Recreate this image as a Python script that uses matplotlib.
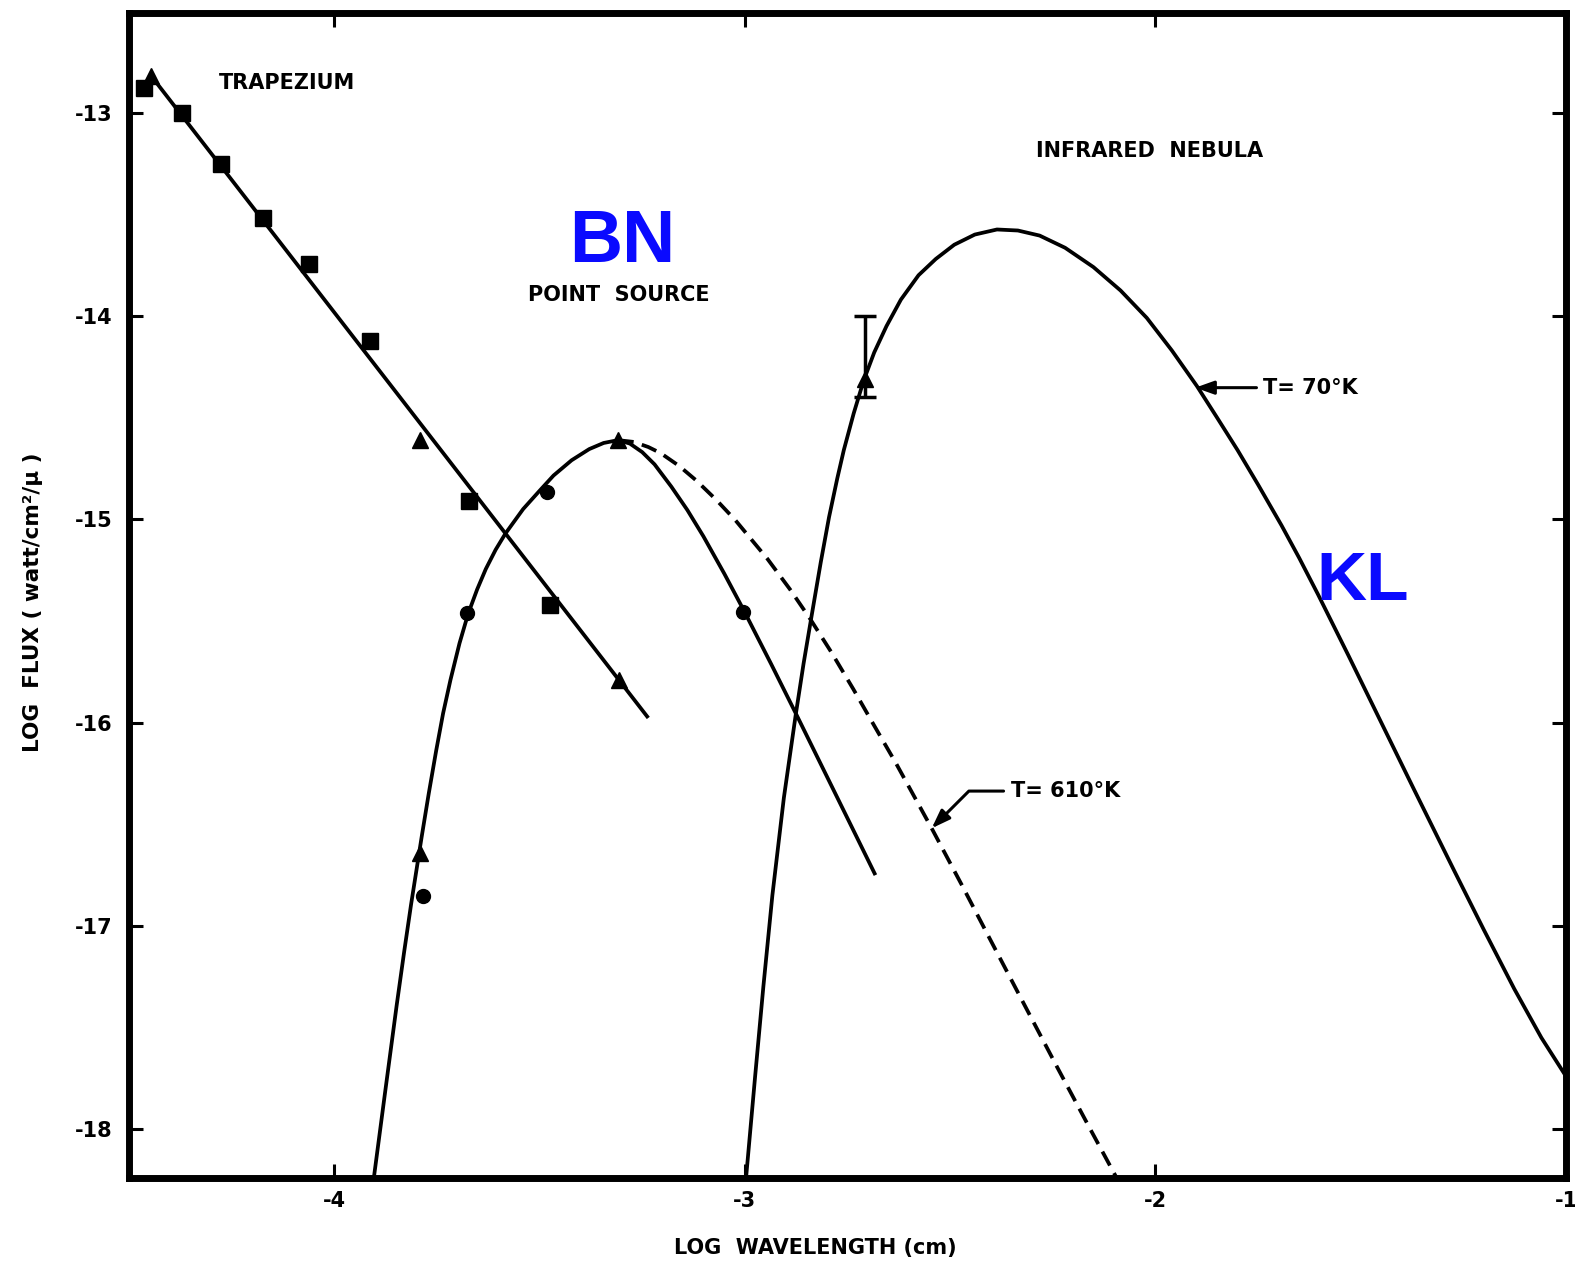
import numpy as np
import matplotlib.pyplot as plt

# Trapezium points and fitted line
trap_sq_x = [-4.463, -4.372, -4.275, -4.173, -4.062, -3.914, -3.673, -3.475]
trap_sq_y = [-12.880, -13.002, -13.255, -13.518, -13.744, -14.125, -14.911, -15.421]
trap_tri_x = [-4.447, -3.792, -3.306]
trap_tri_y = [-12.820, -14.609, -15.792]
trap_line_x = [-4.447, -3.238]
trap_line_y = [-12.817, -15.970]

# BN point source
bn_circ_x = [-3.783, -3.676, -3.483, -3.005]
bn_circ_y = [-16.854, -15.463, -14.864, -15.457]
bn_tri_x = [-3.791, -3.309]
bn_tri_y = [-16.640, -14.611]
bn_curve_x = [-3.905, -3.877, -3.848, -3.830, -3.813, -3.787, -3.770, -3.752, -3.735,
              -3.717, -3.695, -3.674, -3.652, -3.631, -3.607, -3.583, -3.540, -3.500,
              -3.466, -3.422, -3.379, -3.344, -3.309, -3.280, -3.250, -3.220, -3.179,
              -3.140, -3.101, -3.050, -3.005, -2.936, -2.871, -2.800, -2.740, -2.684]
bn_curve_y = [-18.26, -17.83, -17.39, -17.13, -16.895, -16.56, -16.35, -16.14, -15.955,
              -15.79, -15.61, -15.465, -15.345, -15.245, -15.150, -15.070, -14.950, -14.860,
              -14.785, -14.710, -14.655, -14.625, -14.611, -14.628, -14.670, -14.730, -14.840,
              -14.955, -15.084, -15.268, -15.439, -15.712, -15.975, -16.266, -16.512, -16.742]
bn_dash_x = [-3.309, -3.270, -3.235, -3.205, -3.160, -3.118, -3.070, -3.023, -2.945,
             -2.890, -2.841, -2.790, -2.736, -2.685, -2.632, -2.545, -2.470, -2.403,
             -2.320, -2.238, -2.160, -2.085]
bn_dash_y = [-14.611, -14.620, -14.645, -14.675, -14.738, -14.810, -14.904, -15.005, -15.195,
             -15.345, -15.490, -15.652, -15.835, -16.015, -16.200, -16.520, -16.805, -17.065,
             -17.385, -17.700, -17.995, -18.275]

# KL infrared nebula
kl_curve_x = [-2.998, -2.975, -2.955, -2.933, -2.905, -2.876, -2.857, -2.837, -2.815,
              -2.795, -2.775, -2.759, -2.735, -2.711, -2.685, -2.655, -2.620, -2.577,
              -2.535, -2.490, -2.440, -2.386, -2.335, -2.282, -2.220, -2.151, -2.085,
              -2.021, -1.960, -1.899, -1.850, -1.800, -1.750, -1.693, -1.650, -1.604,
              -1.530, -1.450, -1.370, -1.272, -1.200, -1.126, -1.060, -1.000]
kl_curve_y = [-18.26, -17.74, -17.30, -16.85, -16.37, -15.96, -15.71, -15.47, -15.21,
              -14.99, -14.80, -14.66, -14.48, -14.32, -14.18, -14.05, -13.92, -13.80,
              -13.72, -13.65, -13.60, -13.575, -13.58, -13.605, -13.665, -13.76, -13.875,
              -14.01, -14.17, -14.345, -14.50, -14.66, -14.83, -15.03, -15.19, -15.37,
              -15.67, -16.00, -16.33, -16.73, -17.02, -17.31, -17.55, -17.74]
kl_pt_x = [-2.708]
kl_pt_y = [-14.31]
kl_err_lo = [0.09]
kl_err_hi = [0.31]

xticks = [-4, -3, -2, -1]
yticks = [-13, -14, -15, -16, -17, -18]

fig = plt.figure(figsize=(15.75, 12.69), dpi=100)
ax = fig.add_axes([0.0819, 0.0717, 0.9124, 0.9181])

lw = 2.7
ax.plot(trap_line_x, trap_line_y, color='black', lw=lw)
ax.plot(bn_curve_x, bn_curve_y, color='black', lw=lw)
ax.plot(bn_dash_x, bn_dash_y, color='black', lw=lw, dashes=(4.2, 2.3))
ax.plot(kl_curve_x, kl_curve_y, color='black', lw=lw)

ax.plot(trap_sq_x, trap_sq_y, 's', color='black', ms=12)
ax.plot(trap_tri_x, trap_tri_y, '^', color='black', ms=11)
ax.plot(bn_circ_x, bn_circ_y, 'o', color='black', ms=10)
ax.plot(bn_tri_x, bn_tri_y, '^', color='black', ms=11)
ax.errorbar(kl_pt_x, kl_pt_y, yerr=[kl_err_lo, kl_err_hi], fmt='^', color='black',
            ms=11, elinewidth=2.5, capsize=8, capthick=2.5)

ax.set_xlim(-4.5, -1.0)
ax.set_ylim(-18.24, -12.51)
ax.set_xticks(xticks)
ax.set_yticks(yticks)
ax.set_xticklabels([str(t) for t in xticks])
ax.set_yticklabels([str(t) for t in yticks])
ax.tick_params(direction='in', length=10, width=2.2, top=True, right=True,
               labelsize=15)
ax.tick_params(axis='x', pad=9)
ax.tick_params(axis='y', pad=12)
for lab in ax.get_xticklabels() + ax.get_yticklabels():
    lab.set_fontweight('bold')
for sp in ax.spines.values():
    sp.set_linewidth(5)

ax.set_xlabel('LOG  WAVELENGTH (cm)', fontsize=15, fontweight='bold')
ax.set_ylabel('LOG  FLUX ( watt/cm²/μ )', fontsize=15.5, fontweight='bold')
ax.xaxis.set_label_coords(0.4774, -0.0515)
ax.yaxis.set_label_coords(-0.0598, 0.494)

ax.text(-4.282, -12.857, 'TRAPEZIUM', fontsize=15, fontweight='bold', va='center')
ax.text(-2.290, -13.187, 'INFRARED  NEBULA', fontsize=15, fontweight='bold', va='center')
ax.text(-3.528, -13.896, 'POINT  SOURCE', fontsize=15, fontweight='bold', va='center')
ax.text(-3.299, -13.640, 'BN', fontsize=53, fontweight='bold', color='#0a0aff',
        family='Liberation Sans', ha='center', va='center')
ax.text(-1.495, -15.31, 'KL', fontsize=50, fontweight='bold', color='#0a0aff',
        family='Liberation Sans', ha='center', va='center')

arrow = dict(arrowstyle='-|>,head_length=0.7,head_width=0.25', color='black', lw=2.2,
             mutation_scale=16, shrinkA=3, shrinkB=0, relpos=(0, 0.5))
ax.annotate('T= 610°K', xy=(-2.545, -16.52), xytext=(-2.353, -16.337),
            fontsize=15, fontweight='bold', ha='left', va='center',
            arrowprops=dict(arrow, connectionstyle='angle,angleA=0,angleB=45,rad=0'))
ax.annotate('T= 70°K', xy=(-1.903, -14.353), xytext=(-1.737, -14.353),
            fontsize=15, fontweight='bold', ha='left', va='center',
            arrowprops=arrow)

fig.savefig('out.png', dpi=100)
